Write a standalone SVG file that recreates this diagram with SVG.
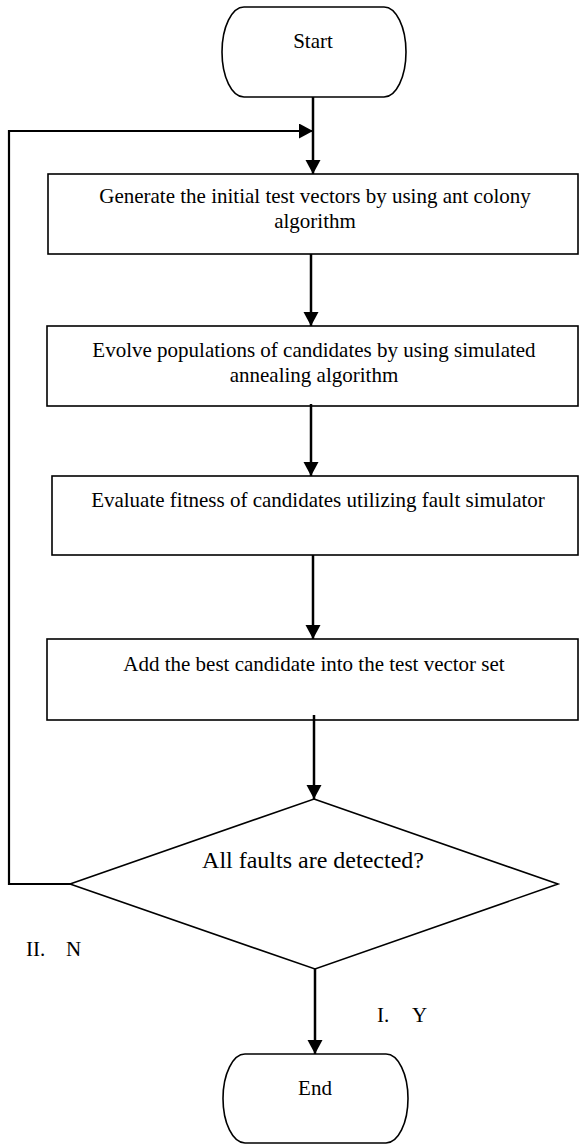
<svg xmlns="http://www.w3.org/2000/svg" width="579" height="1146" viewBox="0 0 579 1146">
<style>
text{font-family:"Liberation Serif","Times New Roman",serif;font-size:21px;fill:#000;text-anchor:middle}
.shape{fill:#fff;stroke:#000;stroke-width:1.6}
.conn{fill:none;stroke:#000;stroke-width:2.5}
</style>
<defs>
<marker id="arr" markerUnits="userSpaceOnUse" markerWidth="16" markerHeight="16" refX="14" refY="7.5" orient="auto">
<path d="M0,0 L14,7.5 L0,15 Z" fill="#000"/>
</marker>
</defs>
<rect width="579" height="1146" fill="#fff"/>
<g id="start">
<path class="shape" d="M244,7 H384 A22,45 0 0 1 384,97 H244 A22,45 0 0 1 244,7 Z"/>
<text x="313" y="48">Start</text>
</g>
<g id="box1">
<rect class="shape" x="48" y="174" width="530" height="80"/>
<text x="315" y="203">Generate the initial test vectors by using ant colony</text>
<text x="315" y="228">algorithm</text>
</g>
<g id="box2">
<rect class="shape" x="47" y="326" width="531" height="80"/>
<text x="314" y="357">Evolve populations of candidates by using simulated</text>
<text x="314" y="382">annealing algorithm</text>
</g>
<g id="box3">
<rect class="shape" x="52" y="476" width="526" height="79"/>
<text x="318" y="507">Evaluate fitness of candidates utilizing fault simulator</text>
</g>
<g id="box4">
<rect class="shape" x="47" y="639" width="531" height="81"/>
<text x="314" y="671">Add the best candidate into the test vector set</text>
</g>
<g id="decision">
<path class="shape" d="M314,799 L558,884 L315,969 L70,884 Z"/>
<text x="313" y="868" style="font-size:24px">All faults are detected?</text>
</g>
<g id="end">
<path class="shape" d="M245,1054 H386 A22,44.5 0 0 1 386,1143 H245 A22,44.5 0 0 1 245,1054 Z"/>
<text x="315" y="1095">End</text>
</g>
<g id="connectors">
<path class="conn" d="M313,97 V174" marker-end="url(#arr)"/>
<path class="conn" d="M311,254 V326" marker-end="url(#arr)"/>
<path class="conn" d="M311,404 V476" marker-end="url(#arr)"/>
<path class="conn" d="M313,555 V639" marker-end="url(#arr)"/>
<path class="conn" d="M314,715 V799" marker-end="url(#arr)"/>
<path class="conn" d="M315,969 V1054" marker-end="url(#arr)"/>
<path class="conn" style="stroke-width:2.2" d="M70,884 H9 V131 H313" marker-end="url(#arr)"/>
</g>
<g id="labels">
<text x="26" y="956" style="text-anchor:start">II.<tspan x="66">N</tspan></text>
<text x="377" y="1022" style="text-anchor:start">I.<tspan x="412">Y</tspan></text>
</g>
</svg>
